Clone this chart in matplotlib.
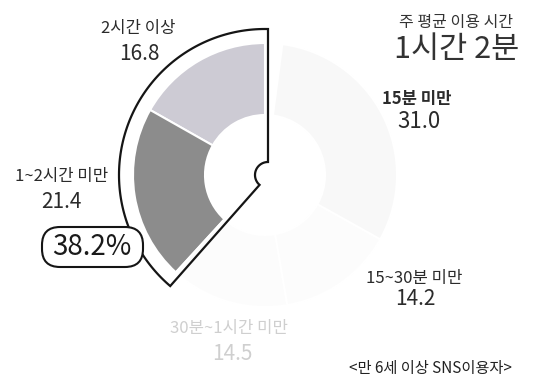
import numpy as np
import matplotlib
matplotlib.use('Agg')
import matplotlib.pyplot as plt
from matplotlib.patches import FancyBboxPatch

plt.rcParams['font.family'] = ['Noto Sans CJK KR', 'DejaVu Sans']

# SNS 주 평균 이용 시간 분포 (%), 12시 방향부터 반시계 방향
labels = ['2시간 이상', '1~2시간 미만', '30분~1시간 미만', '15~30분 미만', '15분 미만']
shares = [16.8, 21.4, 14.5, 14.2, 31.0]
values = ['16.8', '21.4', '14.5', '14.2', '31.0']
colors = ['#cdcbd4', '#8c8c8c', '#fcfcfc', '#fcfcfc', '#f8f8f8']
highlight = '38.2%'
avg_title = '주 평균 이용 시간'
avg_time = '1시간 2분'
base_note = '<만 6세 이상 SNS이용자>'

W, H = 534, 381
fig = plt.figure(figsize=(W / 100, H / 100), dpi=100)
ax = fig.add_axes([0, 0, 1, 1])

cx, cy = 265, 206
R, ring = 132, 72
ax.pie([s / 100 for s in shares], colors=colors, startangle=90, counterclock=True,
       normalize=False, center=(cx, cy), radius=R,
       wedgeprops=dict(width=ring, edgecolor='white', linewidth=1.5))

# 강조 구간(2시간 이상 + 1~2시간 미만) 외곽선
r_out = 146
a_end = 90 + 360 * (shares[0] + shares[1]) / 100 + 2
a_top = np.degrees(np.arccos(3 / r_out))
t = np.radians(np.linspace(a_top, a_end, 120))
outer = np.column_stack([cx + r_out * np.cos(t), cy + r_out * np.sin(t)])
tn = np.radians(np.linspace(a_end, 90, 40))
notch = np.column_stack([cx + 3 + 13 * np.cos(tn), cy + 13 * np.sin(tn)])
ax.add_patch(plt.Polygon(np.vstack([outer, notch]), closed=True, fill=False,
                         ec='#151515', lw=1.6, joinstyle='miter', zorder=4))

# 38.2% 라벨 상자
ax.add_patch(FancyBboxPatch((46, 118), 93, 32, boxstyle='round,pad=4,rounding_size=18',
                            fc='white', ec='#151515', lw=1.5, zorder=5))
ax.text(92, 134, highlight, fontsize=20, ha='center', va='center', color='#1a1a1a', zorder=6)

dark = '#2b2b2b'
faint = '#cfcfcf'
# 구간별 라벨 (이름, 값)
pos = [((138, 352), (139, 327)),
       ((62, 204), (61, 179)),
       ((229, 53), (232, 27)),
       ((414, 102), (415, 82)),
       ((417, 282), (419, 259))]
for i, (lab, val) in enumerate(zip(labels, values)):
    (lx, ly), (vx, vy) = pos[i]
    c = faint if i == 2 else dark
    w = 'bold' if i == 4 else 'normal'
    ax.text(lx, ly, lab, fontsize=12, ha='center', va='center', color=c, fontweight=w)
    ax.text(vx, vy, val, fontsize=16 if i == 4 else 15, ha='center', va='center', color=c)

ax.text(456, 359, avg_title, fontsize=11.5, ha='center', va='center', color='#333333')
ax.text(457, 332, avg_time, fontsize=22, ha='center', va='center', color='#333333',
        fontweight='light')
ax.text(430, 12, base_note, fontsize=11, ha='center', va='center', color='#222222')

ax.set_xlim(0, W)
ax.set_ylim(0, H)
ax.set_aspect('equal')
ax.axis('off')
fig.savefig('out.png', dpi=100, facecolor='white')
